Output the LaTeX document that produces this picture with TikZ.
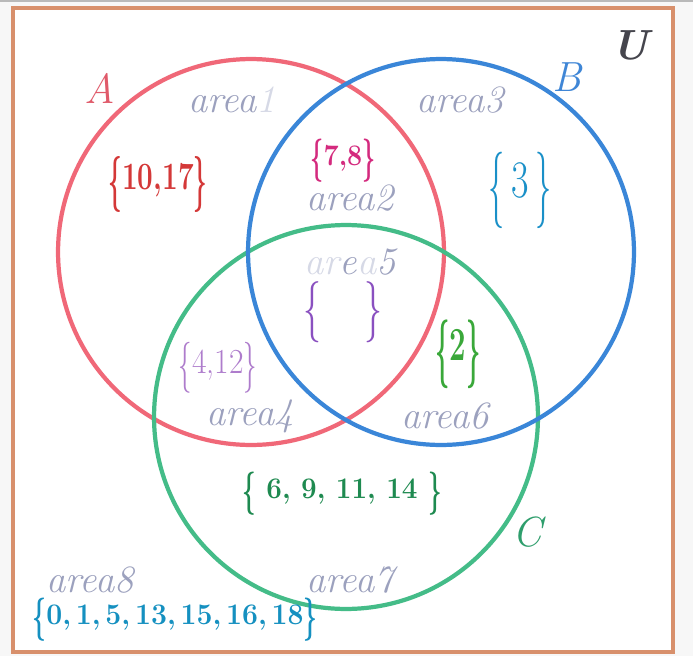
\documentclass[tikz,border=0pt]{standalone}
\usepackage{xcolor}
\usepackage{graphicx}
\usepackage{tikz}
\usetikzlibrary{positioning}

\definecolor{pagebg}{HTML}{F7F7F7}
\definecolor{framecol}{HTML}{D8906C}
\definecolor{ringA}{HTML}{F06878}
\definecolor{ringB}{HTML}{3A86D8}
\definecolor{ringC}{HTML}{44BC88}
\definecolor{labA}{HTML}{E05A6A}
\definecolor{labB}{HTML}{3F86D6}
\definecolor{labC}{HTML}{2E9E6C}
\definecolor{labU}{HTML}{45454D}
\definecolor{areagray}{HTML}{9CA1BE}
\definecolor{areafade}{HTML}{D6D9E6}
\definecolor{setone}{HTML}{D43838}
\definecolor{settwo}{HTML}{D42A7E}
\definecolor{setthree}{HTML}{1A90C8}
\definecolor{setfour}{HTML}{AE7CCC}
\definecolor{setfive}{HTML}{8A50C0}
\definecolor{setsix}{HTML}{3AA83A}
\definecolor{setseven}{HTML}{1E8A50}
\definecolor{seteight}{HTML}{1590C0}

\newcommand{\hbl}{\raisebox{-0.22em}{\scalebox{0.85}[1.45]{\{}}}
\newcommand{\hbr}{\raisebox{-0.22em}{\scalebox{0.85}[1.45]{\}}}}

\begin{document}
\begin{tikzpicture}[
    x=0.02cm, y=-0.02cm,
    every node/.style={inner sep=0pt, outer sep=0pt},
    ring/.style={line width=2.4pt},
    setname/.style={font=\fontsize{24}{28}\selectfont\itshape},
    area/.style={font=\fontsize{22}{26}\selectfont\itshape, text=areagray},
    elems/.style={font=\fontsize{#1}{#1}\selectfont\bfseries},
    thinelems/.style={font=\fontsize{#1}{#1}\selectfont}
]
\useasboundingbox (0,0) rectangle (693,656);
\fill[pagebg] (0,0) rectangle (693,656);
\draw[gray!55, line width=1.2pt] (0,0.6) -- (693,0.6);
\draw[framecol, line width=2.3pt, fill=white] (13,8) rectangle (673,652);

\coordinate (cA) at (251,252);
\coordinate (cB) at (441,252);
\coordinate (cC) at (346,417);
\draw[ring, ringA] (cA) circle[radius=3.86cm];
\draw[ring, ringC] (cC) circle[radius=3.84cm];
\draw[ring, ringB] (cB) circle[radius=3.86cm];

\node[setname, text=labA] (nameA) at (100,88)  {A};
\node[setname, text=labB] (nameB) at (567,77)  {B};
\node[setname, text=labC] (nameC) at (527,532) {C};
\node[setname, text=labU, font=\fontsize{24}{28}\selectfont\bfseries\itshape] (nameU) at (630,45) {U};

\node[area] (ar1) at (232,100) {area{\color{areafade}1}};
\node[area] (ar2) at (350,198) {area2};
\node[area] (ar3) at (460,100) {area3};
\node[area] (ar4) at (250,416) {area4};
\node[area] (ar5) at (350,262) {{\color{areafade}ar}e{\color{areafade}a}5};
\node[area] (ar6) at (445,416) {area6};
\node[area] (ar7) at (350,580) {area7};
\node[area] (ar8) at (90,580)  {area8};

\node[elems=22, text=setone]       (el1) at (158,184) {\scalebox{0.72}[1]{\hbl10,17\hbr}};
\node[elems=17, text=settwo]       (el2) at (343,161) {\scalebox{0.9}[1]{\hbl7,8\hbr}};
\node[thinelems=30, text=setthree] (el3) at (520,190) {\scalebox{0.72}[1]{\hbl\,3\,\hbr}};
\node[thinelems=20, text=setfour]  (el4) at (218,368) {\scalebox{0.9}[1]{\hbl4,12\hbr}};
\node[thinelems=24, text=setfive]  (el5) at (343,312) {\hbl\quad\hbr};
\node[elems=27, text=setsix]       (el6) at (458,354) {\scalebox{0.62}[1]{\hbl2\hbr}};
\node[elems=17, text=setseven]     (el7) at (342,494) {\scalebox{0.93}[1]{\hbl\ 6, 9, 11, 14\ \hbr}};
\node[elems=17, text=seteight]     (el8) at (175,620) {\scalebox{0.95}[1]{\hbl0,\,1,\,5,\,13,\,15,\,16,\,18\hbr}};
\end{tikzpicture}
\end{document}
